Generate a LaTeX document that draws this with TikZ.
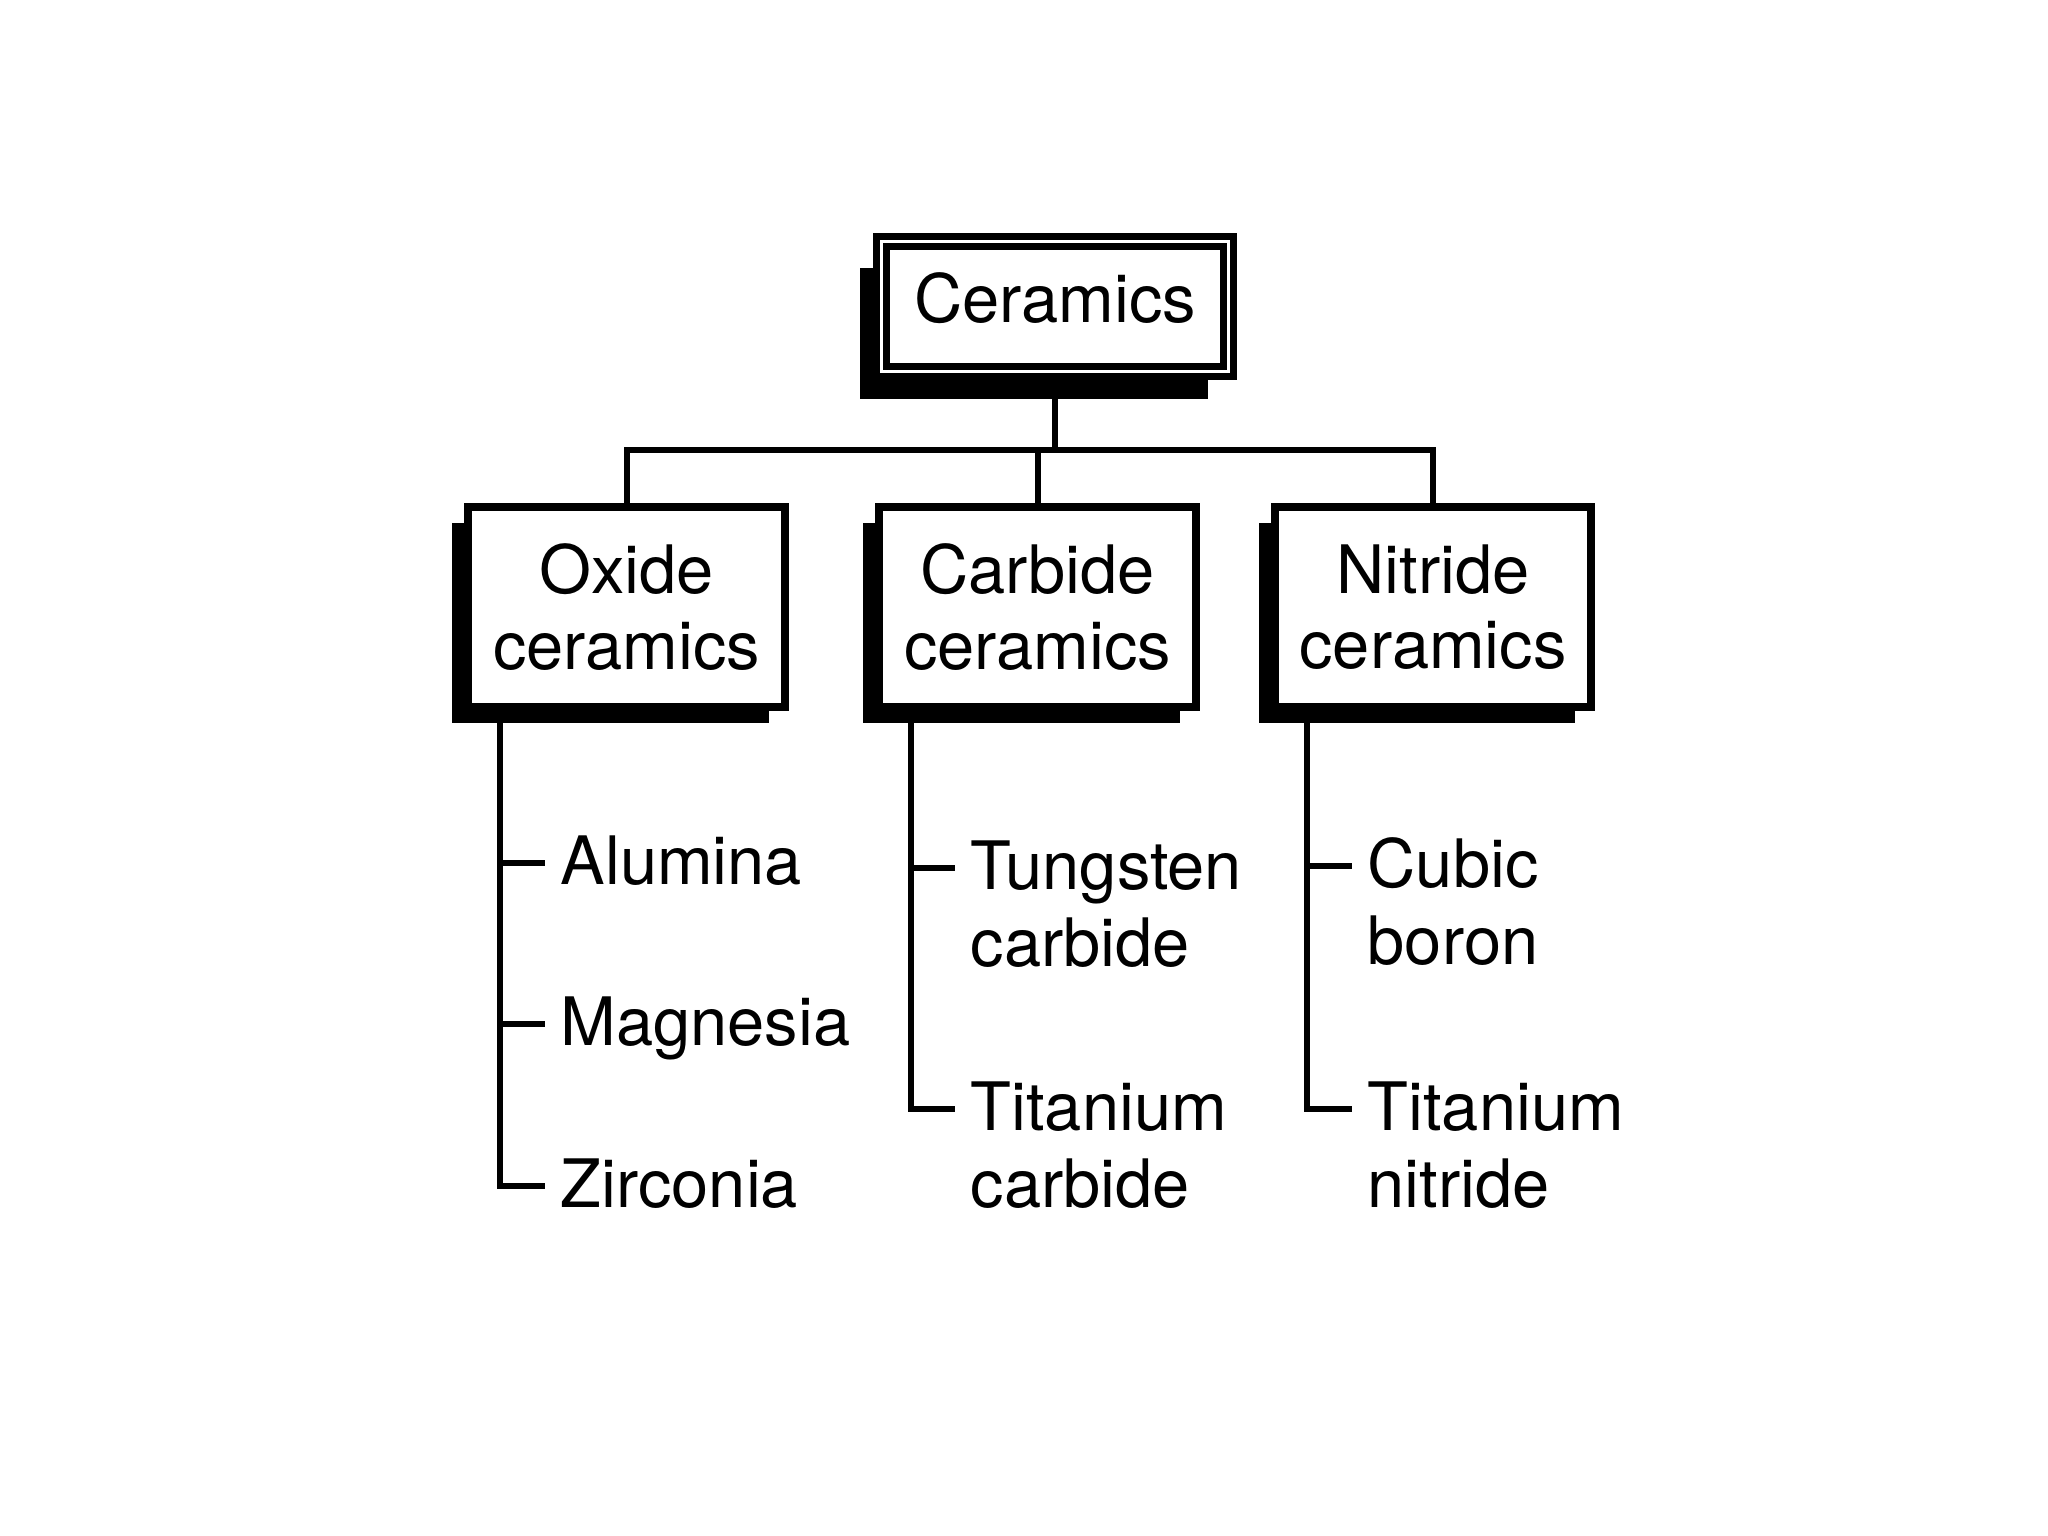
\documentclass[tikz,border=0pt]{standalone}
\usepackage{fontspec}
\setmainfont{TeX Gyre Heros}
\usetikzlibrary{positioning, calc, shadows, backgrounds}

\tikzset{
    rootbox/.style={draw, double=white, line width=0.07cm, double distance=0.03cm,
        fill=white, minimum width=3.47cm, minimum height=1.3cm, inner sep=0pt,
        text depth=5pt, font=\fontsize{19pt}{22pt}\selectfont,
        drop shadow={shadow xshift=-0.21cm, shadow yshift=-0.27cm, opacity=1, fill=black}},
    catbox/.style={draw, line width=0.08cm, fill=white, minimum width=3.16cm,
        minimum height=2cm, inner sep=0pt, align=center,
        font=\fontsize{19pt}{21.5pt}\selectfont,
        drop shadow={shadow xshift=-0.16cm, shadow yshift=-0.16cm, opacity=1, fill=black}},
    item/.style={anchor=base west, align=left, inner sep=0pt,
        font=\fontsize{19pt}{22pt}\selectfont},
    link/.style={line width=0.06cm}
}

\begin{document}
\begin{tikzpicture}[x=0.01cm, y=-0.01cm]
\useasboundingbox (0,0) rectangle (2048,1536);

% Boxes
\node[rootbox] (cer) at (1055,306.5) {Ceramics};
\node[catbox] (oxide) at (626.5,607) {Oxide\\ceramics};
\node[catbox] (carbide) at (1037.5,607) {Carbide\\ceramics};
\node[catbox] (nitride) at (1433,607) {Nitride\\ceramics};
\coordinate (bar) at (0,450);

% Members of each family (base = last line)
\node[item] (alu) at (560,884) {Alumina};
\node[item] (mag) at (560,1045) {Magnesia};
\node[item] (zir) at (560,1207) {Zirconia};
\node[item] (tung) at (970,966.6) {Tungsten\\carbide};
\node[item] (tic) at (970,1207.6) {Titanium\\carbide};
\node[item] (cbn) at (1367,964.6) {Cubic\\boron};
\node[item] (tin) at (1367,1207.6) {Titanium\\nitride};

\coordinate (oxcol) at ([xshift=0.36cm]oxide.south west);
\coordinate (cacol) at ([xshift=0.36cm]carbide.south west);
\coordinate (nicol) at ([xshift=0.36cm]nitride.south west);
\foreach \m/\dy in {alu/21, mag/21, zir/21, tung/98.6, tic/98.6, cbn/98.6, tin/98.6}
    \coordinate (\m-t) at ($(\m.base west)+(-15,-\dy)$);

% Connectors, behind the boxes
\begin{scope}[on background layer]
    \draw[link] (cer.south) -- (cer.south |- bar);
    \draw[link] (oxide.north) -- (oxide.north |- bar) -- (nitride.north |- bar) -- (nitride.north);
    \draw[link] (carbide.north) -- (carbide.north |- bar);

    \draw[link] (oxcol) |- (zir-t);
    \foreach \t in {alu-t, mag-t}
        \draw[link] (oxcol |- \t) -- (\t);
    \draw[link] (cacol) |- (tic-t);
    \draw[link] (cacol |- tung-t) -- (tung-t);
    \draw[link] (nicol) |- (tin-t);
    \draw[link] (nicol |- cbn-t) -- (cbn-t);
\end{scope}

\end{tikzpicture}
\end{document}
